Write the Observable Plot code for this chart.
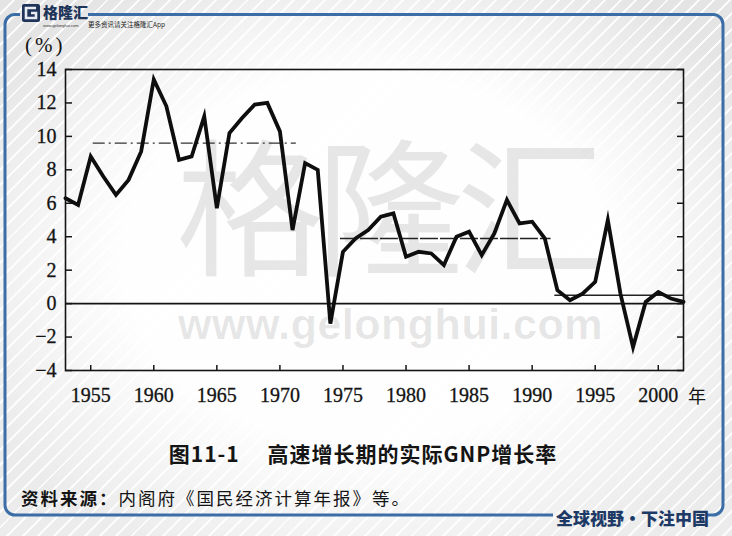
<!DOCTYPE html>
<html><head><meta charset="utf-8">
<script src="https://cdn.jsdelivr.net/npm/d3@7"></script>
<script src="https://cdn.jsdelivr.net/npm/@observablehq/plot@0.6"></script>
<style>
html,body{margin:0;padding:0;}
body{width:732px;height:536px;overflow:hidden;background:#e8e8e8;}
#page{position:relative;width:732px;height:536px;overflow:hidden;font-family:"Noto Sans CJK SC",sans-serif;
  background:
   radial-gradient(ellipse 60% 62% at 50% 48%, rgba(255,255,255,0.97) 55%, rgba(255,255,255,0) 100%),
   repeating-linear-gradient(135deg, rgba(255,255,255,0) 0px, rgba(255,255,255,0) 9px, rgba(255,255,255,0.85) 9px, rgba(255,255,255,0.85) 11px),
   linear-gradient(180deg,#e4e4e4,#ececec);}
.abs{position:absolute;white-space:nowrap;}
#deco{position:absolute;left:0;top:0;}
#wm1{left:176px;top:139px;height:150px;font-family:"Liberation Sans","Noto Sans CJK SC",sans-serif;font-size:148px;line-height:1;font-weight:400;color:rgba(0,0,0,0.095);letter-spacing:-8px;}
#wm2{left:178px;top:303px;font-family:"Liberation Sans",sans-serif;font-weight:700;font-size:43px;line-height:1;color:rgba(0,0,0,0.095);letter-spacing:0.5px;}
#chart{position:absolute;left:0;top:0;}
#chart text{stroke:#141414;stroke-width:0.3px;}
#unit{left:25px;top:33px;font-family:"Liberation Serif",serif;font-size:21px;color:#151515;letter-spacing:3px;}
#nian{left:688px;top:382px;font-size:18px;color:#151515;}
#title{left:0;width:726px;text-align:center;top:438px;font-size:21px;font-weight:700;color:#141414;letter-spacing:1px;}
#caption{left:21px;top:485px;font-size:17.5px;color:#141414;letter-spacing:2px;}
#caption b{font-weight:700;}
#slogan{left:556px;top:505px;font-size:17px;font-weight:900;color:#1d3a66;letter-spacing:0px;}
#logo{left:43px;top:4px;font-size:15px;font-weight:900;color:#1e3559;letter-spacing:0px;line-height:1;}
#logo2{left:43px;top:24px;font-size:4px;line-height:1;color:#333;font-family:"Liberation Sans",sans-serif;}
#logo3{left:88px;top:21px;font-size:6.5px;line-height:1;color:#222;}
</style></head><body>
<div id="page">
 <div class="abs" id="wm1">格隆汇</div>
 <div class="abs" id="wm2">www.gelonghui.com</div>
 <svg id="deco" width="732" height="536">
  <path d="M88,14.5 H713 A10,10 0 0 1 723,24.5 V505 A10,10 0 0 1 713,515 H706 M553,515 H15 A10,10 0 0 1 5,505 V24.5 A10,10 0 0 1 15,14.5 H20"
        fill="none" stroke="#3b6da6" stroke-width="3"/>
  <rect x="22" y="4" width="18" height="18" rx="2" fill="#1e3559"/>
  <path d="M36,8 H26 V18 H36 V13 H31" fill="none" stroke="#e8ecf2" stroke-width="2.6"/>
 </svg>
 <div class="abs" id="logo">格隆汇</div>
 <div class="abs" id="logo2">www.gelonghui.com</div>
 <div class="abs" id="logo3">更多资讯请关注格隆汇App</div>
 <div id="chart"></div>
 <div class="abs" id="unit">(%)</div>
 <div class="abs" id="nian">年</div>
 <div class="abs" id="title">图11-1　 高速增长期的实际GNP增长率</div>
 <div class="abs" id="caption"><b>资料来源：</b>内阁府《国民经济计算年报》等。</div>
 <div class="abs" id="slogan">全球视野·下注中国</div>
</div>
<script>
const years = [1953,1954,1955,1956,1957,1958,1959,1960,1961,1962,1963,1964,1965,1966,1967,1968,1969,1970,
  1971,1972,1973,1974,1975,1976,1977,1978,1979,1980,1981,1982,1983,1984,1985,1986,1987,1988,1989,1990,
  1991,1992,1993,1994,1995,1996,1997,1998,1999,2000,2001,2002];
const growth = [6.3,5.9,8.8,7.6,6.5,7.4,9.1,13.4,11.8,8.6,8.8,11.2,5.7,10.2,11.1,11.9,12.0,10.3,
  4.4,8.4,8.0,-1.2,3.1,3.9,4.4,5.2,5.4,2.8,3.1,3.0,2.3,4.0,4.3,2.9,4.2,6.2,4.8,4.9,
  3.9,0.8,0.2,0.6,1.3,5.0,0.6,-2.6,0.1,0.7,0.3,0.1];
// period averages
const avgStart = [1955.2, 1974.8, 1991.8];
const avgEnd = [1971.3, 1991.5, 2002];
const avgValue = [9.6, 3.9, 0.5];
const xTicks = [1955,1960,1965,1970,1975,1980,1985,1990,1995,2000];
const yTicks = [-4,-2,0,2,4,6,8,10,12,14];

const series = years.map((y,i)=>({year:y, g:growth[i]}));
const avgs = avgStart.map((s,i)=>({s, e:avgEnd[i], v:avgValue[i]}));

const chart = Plot.plot({
  width:732, height:420,
  marginTop:69, marginBottom:50, marginLeft:65, marginRight:49,
  x:{domain:[1953,2002]},
  y:{domain:[-4,14]},
  style:{background:"transparent", fontFamily:"'Liberation Serif', serif", fontSize:"20px", color:"#141414"},
  marks:[
    Plot.ruleY([0], {stroke:"#141414", strokeWidth:1.6}),
    Plot.ruleY([avgs[0]], {y:"v", x1:"s", x2:"e", stroke:"#333", strokeWidth:1.2, strokeDasharray:"12,4,2,4"}),
    Plot.ruleY([avgs[1]], {y:"v", x1:"s", x2:"e", stroke:"#222", strokeWidth:1.5, strokeDasharray:"18,2"}),
    Plot.ruleY([avgs[2]], {y:"v", x1:"s", x2:"e", stroke:"#222", strokeWidth:1.5}),
    Plot.line(series, {x:"year", y:"g", stroke:"#0e0e0e", strokeWidth:3.8, strokeLinejoin:"miter", strokeMiterlimit:6}),
    Plot.frame({stroke:"#141414", strokeWidth:1.6}),
    Plot.axisY({anchor:"left", ticks:yTicks, tickSize:-7, tickPadding:16, label:null, stroke:"#141414", strokeWidth:1.5}),
    Plot.axisY({anchor:"right", ticks:yTicks, tickSize:-7, tickFormat:()=>"", label:null, stroke:"#141414", strokeWidth:1.5}),
    Plot.axisX({anchor:"bottom", ticks:xTicks, tickSize:-5, tickPadding:22, tickFormat:d=>String(d), label:null, stroke:"#141414", strokeWidth:1.5})
  ]
});
document.getElementById("chart").appendChild(chart);
</script>
</body></html>
